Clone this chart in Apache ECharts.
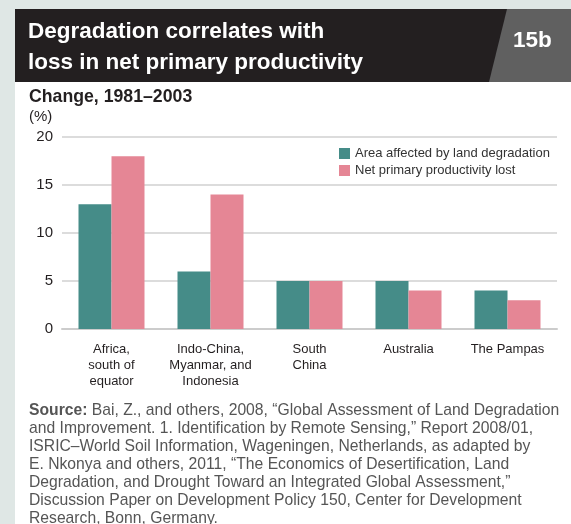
<!DOCTYPE html>
<html>
<head>
<meta charset="utf-8">
<script src="https://cdn.jsdelivr.net/npm/echarts@6/dist/echarts.min.js"></script>
<style>
  html, body { margin: 0; padding: 0; background: #ffffff; }
  #chart { width: 571px; height: 524px; }
</style>
</head>
<body>
<div id="chart"></div>
<script>
// 数据
const regions = [
    'Africa,\nsouth of\nequator',
    'Indo-China,\nMyanmar, and\nIndonesia',
    'South\nChina',
    'Australia',
    'The Pampas'
];
const areaDegraded = [13, 6, 5, 5, 4];
const nppLost = [18, 14, 5, 4, 3];
const seriesNames = ['Area affected by land degradation', 'Net primary productivity lost'];
const yTicks = [0, 5, 10, 15, 20];

const sourceLines = [
    '{b|Source:} Bai, Z., and others, 2008, \u201cGlobal Assessment of Land Degradation',
    'and Improvement. 1. Identification by Remote Sensing,\u201d Report 2008/01,',
    'ISRIC\u2013World Soil Information, Wageningen, Netherlands, as adapted by',
    'E. Nkonya and others, 2011, \u201cThe Economics of Desertification, Land',
    'Degradation, and Drought Toward an Integrated Global Assessment,\u201d',
    'Discussion Paper on Development Policy 150, Center for Development',
    'Research, Bonn, Germany.'
];

const TEAL = '#458c88';
const PINK = '#e58695';
const sans = '"Liberation Sans", Arial, sans-serif';

const chart = echarts.init(document.getElementById('chart'), null, { renderer: 'canvas' });

const option = {
    backgroundColor: '#ffffff',
    animation: false,
    graphic: [
        // 背景边框
        { type: 'rect', shape: { x: 0, y: 0, width: 15, height: 524 }, style: { fill: '#dfe7e5' } },
        { type: 'rect', shape: { x: 0, y: 0, width: 571, height: 9 }, style: { fill: '#dfe7e5' } },
        // 标题栏
        { type: 'rect', shape: { x: 15, y: 9, width: 556, height: 73 }, style: { fill: '#231f20' } },
        { type: 'polygon', shape: { points: [[507, 9], [571, 9], [571, 82], [489, 82]] }, style: { fill: '#606060' } },
        {
            type: 'text', left: 28, top: 16,
            style: {
                text: 'Degradation correlates with\nloss in net primary productivity',
                fill: '#ffffff', font: 'bold 22.5px ' + sans, lineHeight: 31
            }
        },
        {
            type: 'text', left: 513, top: 29,
            style: { text: '15b', fill: '#ffffff', font: 'bold 22.5px ' + sans }
        },
        {
            type: 'text', left: 29, top: 88,
            style: { text: 'Change, 1981\u20132003', fill: '#231f20', font: 'bold 17.7px ' + sans }
        },
        {
            type: 'text', left: 29, top: 109,
            style: { text: '(%)', fill: '#231f20', font: '15px ' + sans }
        },
        {
            type: 'text', left: 29, top: 402,
            style: {
                text: sourceLines.join('\n'),
                fill: '#555555', font: '15.7px ' + sans, lineHeight: 18,
                rich: {
                    b: { fontWeight: 'bold', fontSize: 15.7, fontFamily: sans, fill: '#555555', lineHeight: 18 }
                }
            }
        }
    ],
    legend: {
        orient: 'vertical',
        left: 334,
        top: 142,
        itemWidth: 11,
        itemHeight: 11,
        itemGap: 4,
        icon: 'rect',
        textStyle: { fontFamily: sans, fontSize: 13, color: '#333333' },
        data: seriesNames
    },
    grid: { left: 62, right: 14, top: 137, bottom: 195 },
    xAxis: {
        type: 'category',
        data: regions,
        axisLine: { lineStyle: { color: '#cccccc', width: 2 } },
        axisTick: { show: false },
        axisLabel: {
            interval: 0, margin: 12, lineHeight: 16,
            fontFamily: sans, fontSize: 13, color: '#231f20'
        }
    },
    yAxis: {
        type: 'value',
        min: yTicks[0],
        max: yTicks[yTicks.length - 1],
        interval: 5,
        axisLine: { show: false },
        axisTick: { show: false },
        splitLine: { lineStyle: { color: '#d0d0d0', width: 1.5 } },
        axisLabel: { margin: 9, fontFamily: sans, fontSize: 15, color: '#231f20' }
    },
    series: [
        {
            name: seriesNames[0], type: 'bar', data: areaDegraded,
            barWidth: 33, barGap: '0%', itemStyle: { color: TEAL }
        },
        {
            name: seriesNames[1], type: 'bar', data: nppLost,
            barWidth: 33, barGap: '0%', itemStyle: { color: PINK }
        }
    ]
};

chart.setOption(option);
</script>
</body>
</html>
